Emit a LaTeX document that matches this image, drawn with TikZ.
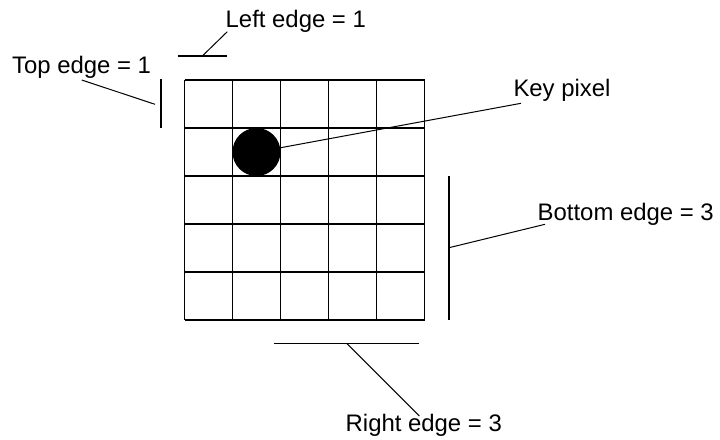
\documentclass[tikz,border=0pt]{standalone}
\usepackage{fontspec}
\setmainfont{Liberation Sans}
\begin{document}
\begin{tikzpicture}[x=1pt,y=-1pt,
  lbl/.style={anchor=base west,inner sep=0pt,font=\fontsize{23.9}{28}\selectfont},
  gridline/.style={line width=1.4pt},
  leader/.style={line width=1pt},
  edgebar/.style={line width=1.2pt}]
\useasboundingbox (0,0) rectangle (720,439);
% grid
\foreach \i in {0,...,5} {
  \draw[gridline] (184.5+48*\i,80) -- (184.5+48*\i,320);
  \draw[gridline] (184.5,80+48*\i) -- (424.5,80+48*\i);
}
% key pixel
\node[circle,fill=black,minimum size=48pt,inner sep=0pt] (keypix) at (256.5,152) {};
% labels
\node[lbl] (lleft) at (225.5,27.7) {Left edge = 1};
\node[lbl] (ltop) at (12,73.3) {Top edge = 1};
\node[lbl] (lkey) at (513.3,96.7) {Key pixel};
\node[lbl] (lbottom) at (537.5,220) {Bottom edge = 3};
\node[lbl] (lright) at (345.5,431.7) {Right edge = 3};
% edge bars
\coordinate (la) at (177.7,56);
\coordinate (lb) at (227.3,56);
\coordinate (lm) at (202.3,56);
\coordinate (le) at (227.3,31.7);
\draw[edgebar] (la) -- (lb);
\draw[leader] (lm) -- (le);
\coordinate (ta) at (161,79.3);
\coordinate (tb) at (161,128.3);
\coordinate (tm) at (155,104.3);
\coordinate (te) at (81.7,80);
\draw[edgebar] (ta) -- (tb);
\draw[leader] (tm) -- (te);
\coordinate (ba) at (449,175.7);
\coordinate (bb) at (449,320);
\coordinate (bm) at (449,247.7);
\coordinate (be) at (545,224.3);
\draw[edgebar] (ba) -- (bb);
\draw[leader] (bm) -- (be);
\coordinate (ra) at (274,343.3);
\coordinate (rb) at (419,343.3);
\coordinate (rm) at (346.7,343.3);
\coordinate (re) at (419.3,416);
\draw[edgebar] (ra) -- (rb);
\draw[leader] (rm) -- (re);
% key pixel leader
\coordinate (ke) at (521,103.3);
\draw[leader] (keypix.east |- 0,147.7) -- (ke);
\end{tikzpicture}
\end{document}
